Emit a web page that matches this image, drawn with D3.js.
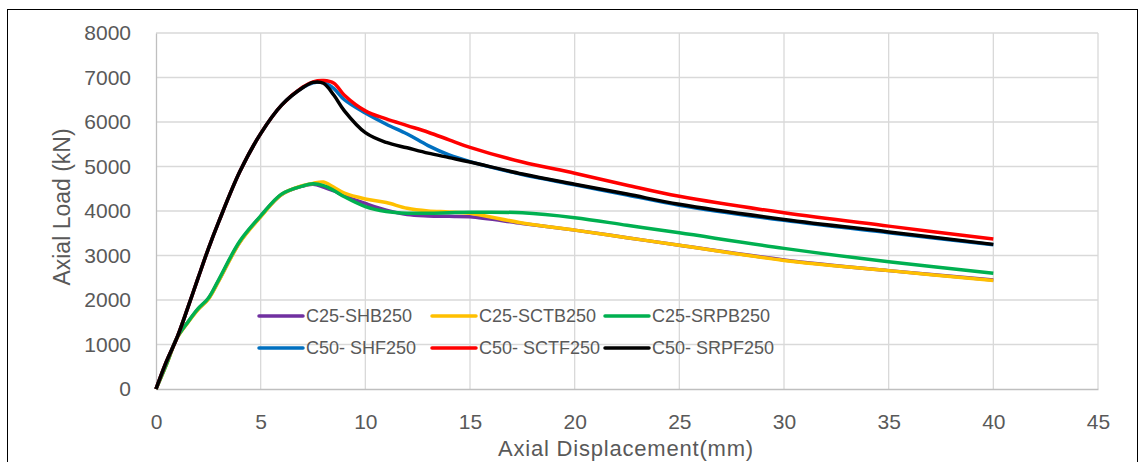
<!DOCTYPE html>
<html>
<head>
<meta charset="utf-8">
<script src="https://cdn.jsdelivr.net/npm/d3@7/dist/d3.min.js"></script>
<style>
  body { margin: 0; background: #fff; }
  text { font-family: "Liberation Sans", Arial, sans-serif; fill: #595959; }
</style>
</head>
<body>
<div id="chart"></div>
<script>
// displacement points (mm), shared by every series
var disp = [0, 0.5, 1, 1.5, 2, 2.5, 3, 4, 5, 6, 7, 7.5, 8, 8.5, 9, 10, 11, 12, 13, 14, 15, 17.5, 20, 22.5, 25, 30, 35, 40];

// axial load (kN)
var c25SHB  = [0, 560, 1150, 1490, 1790, 2030, 2440, 3300, 3880, 4370, 4560, 4600, 4540, 4450, 4340, 4170, 4020, 3920, 3890, 3880, 3870, 3720, 3570, 3400, 3230, 2900, 2660, 2450];
var c25SCTB = [0, 550, 1140, 1480, 1780, 2020, 2430, 3290, 3870, 4370, 4570, 4620, 4650, 4530, 4400, 4270, 4190, 4060, 4000, 3980, 3950, 3730, 3570, 3400, 3230, 2890, 2660, 2440];
var c25SRPB = [0, 560, 1150, 1490, 1800, 2040, 2460, 3320, 3890, 4380, 4560, 4610, 4570, 4460, 4320, 4100, 3990, 3950, 3950, 3960, 3970, 3960, 3850, 3680, 3510, 3160, 2860, 2600];
var c50SHF  = [0, 620, 1150, 1800, 2480, 3150, 3760, 4880, 5740, 6380, 6770, 6880, 6890, 6750, 6500, 6200, 5950, 5730, 5470, 5260, 5110, 4820, 4590, 4360, 4130, 3790, 3510, 3240];
var c50SCTF = [0, 620, 1150, 1800, 2480, 3150, 3760, 4880, 5740, 6380, 6780, 6900, 6930, 6870, 6600, 6250, 6070, 5920, 5770, 5600, 5430, 5100, 4850, 4580, 4330, 3960, 3660, 3370];
var c50SRPF = [0, 620, 1150, 1800, 2480, 3150, 3760, 4880, 5740, 6380, 6770, 6890, 6870, 6600, 6250, 5760, 5540, 5420, 5300, 5200, 5100, 4830, 4600, 4380, 4150, 3810, 3530, 3250];

var seriesNames = ["C25-SHB250", "C25-SCTB250", "C25-SRPB250", "C50- SHF250", "C50- SCTF250", "C50- SRPF250"];
var seriesColors = ["#7030A0", "#FFC000", "#00B050", "#0070C0", "#FF0000", "#000000"];
var seriesLoads = [c25SHB, c25SCTB, c25SRPB, c50SHF, c50SCTF, c50SRPF];

var xTicks = [0, 5, 10, 15, 20, 25, 30, 35, 40, 45];
var yTicks = [0, 1000, 2000, 3000, 4000, 5000, 6000, 7000, 8000];

var width = 1145, height = 462;

var svg = d3.select("#chart").append("svg")
    .attr("width", width)
    .attr("height", height);

// outer frame (bottom edge falls outside the picture)
svg.append("rect")
    .attr("x", 7.5).attr("y", 9.5)
    .attr("width", 1130).attr("height", 470)
    .attr("fill", "none").attr("stroke", "#000").attr("stroke-width", 1);

var x = d3.scaleLinear().domain([0, 45]).range([156, 1098]);
var y = d3.scaleLinear().domain([0, 8000]).range([389, 33]);

// grid
svg.append("g").selectAll("line.v")
    .data(xTicks.slice(1))
    .enter().append("line")
    .attr("x1", function (d) { return x(d); })
    .attr("x2", function (d) { return x(d); })
    .attr("y1", y(0)).attr("y2", y(8000))
    .attr("stroke", "#d9d9d9").attr("stroke-width", 1.3);

svg.append("g").selectAll("line.h")
    .data(yTicks.slice(1))
    .enter().append("line")
    .attr("x1", x(0)).attr("x2", x(45))
    .attr("y1", function (d) { return y(d); })
    .attr("y2", function (d) { return y(d); })
    .attr("stroke", "#d9d9d9").attr("stroke-width", 1.3);

// axes lines, no tick marks
var xAxis = d3.axisBottom(x).tickValues(xTicks).tickSize(0).tickPadding(25);
var yAxis = d3.axisLeft(y).tickValues(yTicks).tickSize(0).tickPadding(25).tickFormat(d3.format("d"));

var gx = svg.append("g").attr("transform", "translate(0," + y(0) + ")").call(xAxis);
var gy = svg.append("g").attr("transform", "translate(" + x(0) + ",0)").call(yAxis);
[gx, gy].forEach(function (g) {
    g.select(".domain").attr("stroke", "#bfbfbf").attr("stroke-width", 1.3);
    g.selectAll("text").style("font-size", "21px").style("font-family", "Liberation Sans, Arial, sans-serif").attr("fill", "#595959");
});

// lines
var line = d3.line()
    .x(function (d) { return x(d[0]); })
    .y(function (d) { return y(d[1]); })
    .curve(d3.curveCatmullRom.alpha(0.5));

seriesLoads.forEach(function (loads, i) {
    var pts = disp.map(function (d, j) { return [d, loads[j]]; });
    svg.append("path")
        .datum(pts)
        .attr("d", line)
        .attr("fill", "none")
        .attr("stroke", seriesColors[i])
        .attr("stroke-width", 3.5)
        .attr("stroke-linejoin", "round");
});

// axis titles
svg.append("text")
    .attr("x", 626).attr("y", 456)
    .attr("text-anchor", "middle")
    .style("font-size", "22px")
    .style("letter-spacing", "0.8px")
    .text("Axial Displacement(mm)");

svg.append("text")
    .attr("transform", "translate(70,207) rotate(-90)")
    .attr("text-anchor", "middle")
    .style("font-size", "23px")
    .text("Axial Load (kN)");

// legend, 3 columns x 2 rows
var legX = [259, 432, 605], legY = [316, 348];
var leg = svg.append("g").selectAll("g")
    .data(seriesNames)
    .enter().append("g")
    .attr("transform", function (d, i) {
        return "translate(" + legX[i % 3] + "," + legY[Math.floor(i / 3)] + ")";
    });
leg.append("line")
    .attr("x1", 0).attr("x2", 44).attr("y1", 0).attr("y2", 0)
    .attr("stroke", function (d, i) { return seriesColors[i]; })
    .attr("stroke-width", 3.5)
    .attr("stroke-linecap", "round");
leg.append("text")
    .attr("x", 47).attr("y", 0)
    .attr("dy", "0.35em")
    .style("font-size", "18px")
    .text(function (d) { return d; });
</script>
</body>
</html>
